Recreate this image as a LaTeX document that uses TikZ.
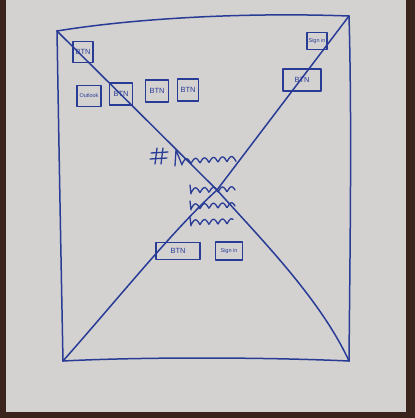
\documentclass[tikz,border=0pt]{standalone}
\usepackage{fontspec}
\setmainfont{Liberation Sans}
\definecolor{paper}{RGB}{212,209,209}
\definecolor{wood}{RGB}{58,36,28}
\definecolor{ink}{RGB}{40,60,150}
\tikzset{
  ink/.style={draw=ink, line width=1.5pt, line cap=round, line join=round},
  thinink/.style={draw=ink, line width=1.3pt, line cap=round, line join=round},
  btnbox/.style={thinink, rectangle, inner sep=0pt,
    font=\fontsize{7.5}{7.5}\selectfont, text=ink},
  smalltext/.style={font=\fontsize{5.5}{5.5}\selectfont},
}
\begin{document}
\begin{tikzpicture}[x=1pt, y=-1pt]
  % table and sheet of paper
  \useasboundingbox (0,0) rectangle (415,418);
  \fill[wood] (0,0) rectangle (415,418);
  \fill[paper] (6,0) rectangle (406,412);

  % corners of the page frame
  \coordinate (tl) at (57,31);
  \coordinate (tr) at (349,16);
  \coordinate (bl) at (63,361);
  \coordinate (br) at (349,361);
  \coordinate (mid) at (217,190);

  % page frame
  \draw[ink] (tl) .. controls (130,19) and (240,12) .. (tr);
  \draw[ink] (tl) .. controls (59,150) and (61,260) .. (bl);
  \draw[ink] (tr) .. controls (352,120) and (350,250) .. (br);
  \draw[ink] (bl) .. controls (140,357) and (260,357) .. (br);

  % crossed diagonals
  \draw[ink] (tl) -- (mid) .. controls (258,236) and (320,298) .. (br);
  \draw[ink] (tr) -- (mid) .. controls (175,228) and (122,294) .. (bl);

  % buttons
  \node[btnbox, minimum width=20pt, minimum height=21pt] (b1) at (83,52) {BTN};
  \node[btnbox, smalltext, minimum width=24pt, minimum height=21pt] (outlook) at (89,96) {Outlook};
  \node[btnbox, minimum width=23pt, minimum height=22pt] (b2) at (121,94) {BTN};
  \node[btnbox, minimum width=23pt, minimum height=22pt] (b3) at (157,91) {BTN};
  \node[btnbox, minimum width=21pt, minimum height=22pt] (b4) at (188,90) {BTN};
  \node[btnbox, smalltext, minimum width=20pt, minimum height=17pt] (signtop) at (317,41) {Sign in};
  \node[btnbox, minimum width=38pt, minimum height=22pt] (bright) at (302,80) {BTN};
  \node[btnbox, minimum width=44pt, minimum height=17pt] (bbottom) at (178,251) {BTN};
  \node[btnbox, smalltext, minimum width=27pt, minimum height=18pt] (signbot) at (229,251) {Sign in};

  % heading mark
  \coordinate (hash) at (159,156);
  \draw[thinink] ([shift={(-2,-8)}]hash) -- ([shift={(-4,8)}]hash);
  \draw[thinink] ([shift={(4,-8)}]hash) -- ([shift={(2,8)}]hash);
  \draw[thinink] ([shift={(-8,-3)}]hash) -- ([shift={(9,-4)}]hash);
  \draw[thinink] ([shift={(-9,3)}]hash) -- ([shift={(8,2)}]hash);

  % heading scribble
  \draw[thinink] (175,166) -- (176,150) -- (182,165)
    -- plot[domain=0:54, samples=90] ({182+\x}, {164-\x*0.05-5*abs(sin(\x*180/9))});

  % body text scribbles
  \foreach \yy/\len in {192/44, 208/44, 224/42} {
    \draw[thinink] (190,\yy-7) -- (191,\yy+2)
      -- plot[domain=0:\len, samples=80] ({191+\x}, {\yy+1-\x*0.03-5*abs(sin(\x*180/9))});
  }
\end{tikzpicture}
\end{document}
